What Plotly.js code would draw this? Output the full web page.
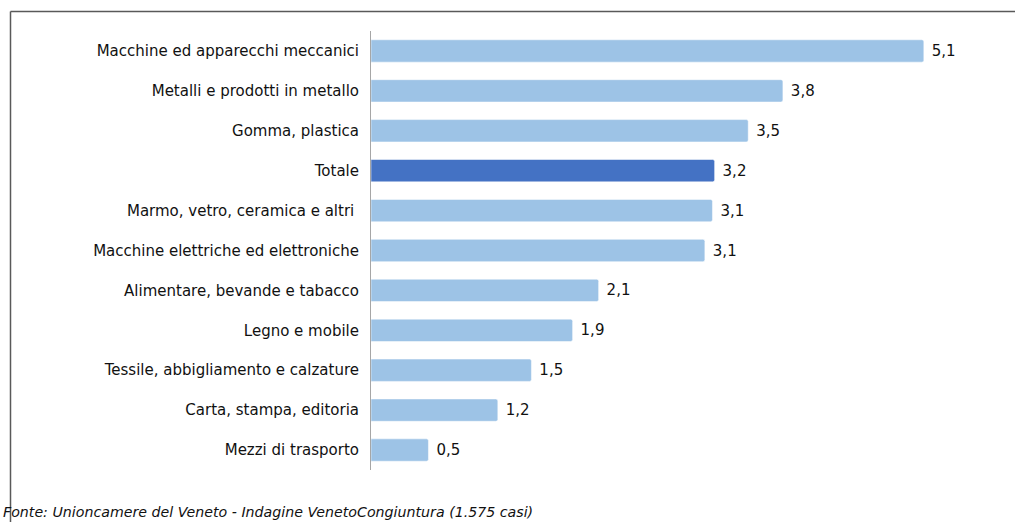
<!DOCTYPE html>
<html>
<head>
<meta charset="utf-8">
<script src="https://cdn.plot.ly/plotly-3.0.1.min.js"></script>
<style>html,body{margin:0;padding:0;background:#fff;}#chart{width:1015px;height:522px;}</style>
</head>
<body>
<div id="chart"></div>
<script>
const categories = [
  "Macchine ed apparecchi meccanici",
  "Metalli e prodotti in metallo",
  "Gomma, plastica",
  "Totale",
  "Marmo, vetro, ceramica e altri ",
  "Macchine elettriche ed elettroniche",
  "Alimentare, bevande e tabacco",
  "Legno e mobile",
  "Tessile, abbigliamento e calzature",
  "Carta, stampa, editoria",
  "Mezzi di trasporto"
];
const values = [5.10, 3.80, 3.48, 3.17, 3.15, 3.08, 2.10, 1.86, 1.48, 1.17, 0.53];
const valueLabels = ["5,1", "3,8", "3,5", "3,2", "3,1", "3,1", "2,1", "1,9", "1,5", "1,2", "0,5"];
const highlight = "Totale";
const sourceNote = "Fonte: Unioncamere del Veneto - Indagine VenetoCongiuntura (1.575 casi)";

const font = "Tahoma, 'DejaVu Sans', Verdana, sans-serif";
const colors = categories.map(c => c === highlight ? "#4472C4" : "#9DC3E6");

// plot area: x from 371 to 1000 px, y from 31 to 470 px
const L = 371, R = 15, T = 31, B = 52, W = 1015, H = 522;
const pw = W - L - R, ph = H - T - B;
const px = x => (x - L) / pw;
const py = y => (H - B - y) / ph;

const trace = {
  type: "bar",
  orientation: "h",
  y: categories,
  x: values,
  text: valueLabels.map(s => "\u2004" + s),
  textposition: "outside",
  cliponaxis: false,
  textfont: {family: font, size: 15, color: "#111"},
  marker: {color: colors, line: {color: "rgba(255,255,255,0.5)", width: 1}, cornerradius: 2},
  width: 0.56,
  hoverinfo: "skip"
};

const layout = {
  width: W, height: H,
  margin: {l: L, r: R, t: T, b: B, pad: 0},
  paper_bgcolor: "#fff",
  plot_bgcolor: "#fff",
  showlegend: false,
  font: {family: font, size: 15, color: "#111"},
  xaxis: {
    range: [0, pw / 108.4],
    showgrid: false, zeroline: false, showline: false,
    showticklabels: false, ticks: "", fixedrange: true
  },
  yaxis: {
    autorange: "reversed",
    showgrid: false, zeroline: false,
    showline: true, linecolor: "#A6A6A6", linewidth: 1,
    ticks: "outside", ticklen: 8, tickcolor: "rgba(0,0,0,0)",
    tickfont: {family: font, size: 15, color: "#111"},
    fixedrange: true
  },
  shapes: [
    {type: "line", xref: "paper", yref: "paper", x0: px(10.5), x1: px(1015), y0: py(11.5), y1: py(11.5), line: {color: "#595959", width: 1.5}},
    {type: "line", xref: "paper", yref: "paper", x0: px(10.5), x1: px(10.5), y0: py(11.5), y1: py(522), line: {color: "#595959", width: 1.5}}
  ],
  annotations: [{
    xref: "paper", yref: "paper",
    x: px(1), y: py(512),
    xanchor: "left", yanchor: "middle",
    text: sourceNote, showarrow: false,
    font: {family: font, size: 14.2, color: "#111", style: "italic"}
  }]
};

Plotly.newPlot("chart", [trace], layout, {staticPlot: true, displayModeBar: false});
</script>
</body>
</html>
